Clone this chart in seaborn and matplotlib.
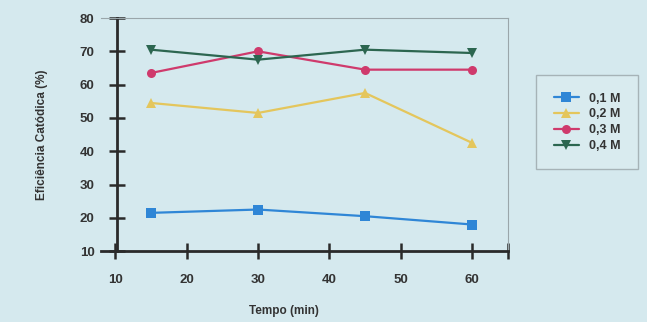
import numpy as np
import pandas as pd
import seaborn as sns
import matplotlib.pyplot as plt
from matplotlib.ticker import FixedLocator

# valores
tempo = [15, 30, 45, 60]
ef_01 = [21.5, 22.5, 20.5, 18.0]
ef_02 = [54.5, 51.5, 57.5, 42.5]
ef_03 = [63.5, 70.0, 64.5, 64.5]
ef_04 = [70.5, 67.5, 70.5, 69.5]
series = ["0,1 M", "0,2 M", "0,3 M", "0,4 M"]

cores = ["#2f86d6", "#e4c65c", "#cf3a6c", "#2c6650"]
marcadores = ["s", "^", "o", "v"]
fundo = "#d5e9ee"

df = pd.DataFrame({
    "Tempo (min)": tempo * 4,
    "Eficiência": ef_01 + ef_02 + ef_03 + ef_04,
    "Conc": [s for s in series for _ in tempo],
})

sns.set_theme(style="white")
plt.rcParams['font.family'] = ['Liberation Sans', 'DejaVu Sans']
plt.rcParams['font.weight'] = 'bold'

fig = plt.figure(figsize=(6.47, 3.22), dpi=100, facecolor=fundo)
ax = fig.add_axes([0.156, 0.22, 0.629, 0.724])
ax.set_facecolor(fundo)

sns.lineplot(data=df, x="Tempo (min)", y="Eficiência", hue="Conc", style="Conc",
             palette=cores, markers=marcadores, dashes=False, markersize=6.5,
             markeredgewidth=0, linewidth=1.6, ax=ax)

ax.set_xlim(8, 65)
ax.set_ylim(10, 80)
ax.set_xticks([10, 20, 30, 40, 50, 60])
ax.xaxis.set_minor_locator(FixedLocator([65]))
ax.set_yticks(range(10, 81, 10))

ax.spines['left'].set_position(('data', 10.3))
for s in ['left', 'bottom']:
    ax.spines[s].set_color('#2a2a2a')
    ax.spines[s].set_linewidth(2)
for s in ['top', 'right']:
    ax.spines[s].set_color('#9aa6aa')
    ax.spines[s].set_linewidth(0.8)

ax.tick_params(axis='both', which='both', direction='inout', length=11, width=1.8,
               color='#2a2a2a', labelsize=9.5, labelcolor='#333333',
               bottom=True, left=True)
ax.tick_params(axis='y', pad=11)
ax.tick_params(axis='x', pad=11)
for lab in ax.get_xticklabels() + ax.get_yticklabels():
    lab.set_fontweight('bold')

ax.set_xlabel("Tempo (min)", fontsize=8.5, fontweight='bold', color='#333333')
ax.set_ylabel("Eficiência Catódica (%)", fontsize=8.5, fontweight='bold', color='#333333')
ax.xaxis.set_label_coords(0.45, -0.23)
ax.yaxis.set_label_coords(-0.13, 0.5)

h, l = ax.get_legend_handles_labels()
leg = fig.legend(h, l, loc='center', bbox_to_anchor=(0.907, 0.62), frameon=True,
                 handlelength=2, labelspacing=0.3, borderpad=1.1,
                 prop={'weight': 'bold', 'size': 9})
ax.get_legend().remove()
leg.get_frame().set_facecolor('#dbecf0')
leg.get_frame().set_edgecolor('#9aa6aa')
leg.get_frame().set_boxstyle('square')
for t in leg.get_texts():
    t.set_color('#333333')

fig.savefig("out.png", dpi=100, facecolor=fundo)
